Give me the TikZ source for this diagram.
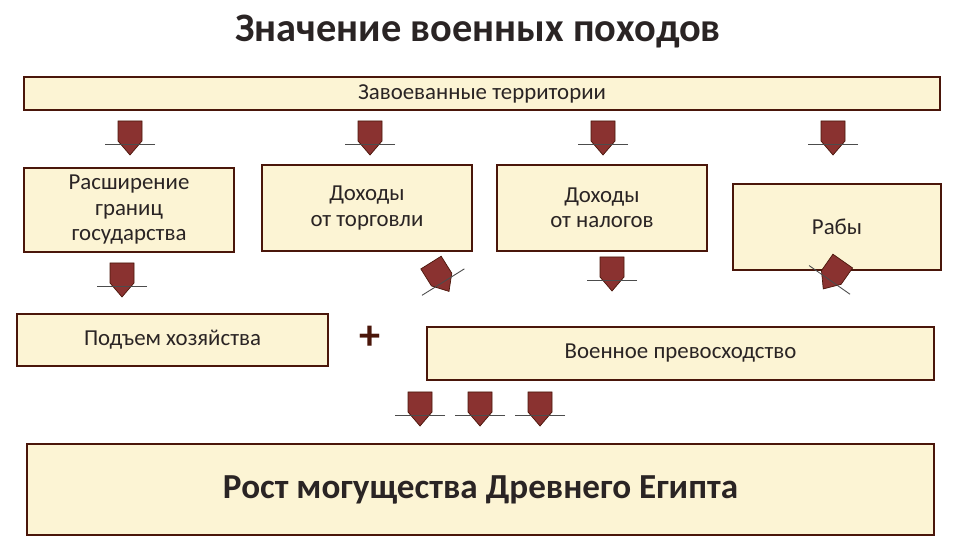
\documentclass[tikz,border=0pt]{standalone}
\usepackage{fontspec}
\setmainfont{Carlito}
\definecolor{boxcream}{RGB}{252,244,212}
\definecolor{boxbrown}{RGB}{74,22,10}
\definecolor{arrowred}{RGB}{138,50,48}
\definecolor{textgray}{RGB}{42,36,36}

\tikzset{
  infobox/.style={draw=boxbrown, line width=1.6pt, fill=boxcream, align=center,
    text=textgray, font=\fontsize{13}{14.5}\selectfont, inner sep=2pt},
  headline/.style={line width=0.5pt, black!70},
  blkarrow/.pic={
    \filldraw[fill=arrowred, draw=boxbrown, line width=0.4pt]
      (-17,-12) -- (3,-12) -- (17,0) -- (3,12) -- (-17,12) -- cycle;
    \draw[headline] (6,-25) -- (6,25);
  }
}

\begin{document}
\begin{tikzpicture}[x=0.02cm, y=-0.02cm]
  \useasboundingbox (0,0) rectangle (960,540);

  % Title
  \node[font=\bfseries\fontsize{23}{28}\selectfont, text=textgray] (title) at (478,32) {Значение военных походов};

  % Top box
  \node[infobox, minimum width=183.2mm, minimum height=6.6mm] (terr) at (482,93.5) {Завоеванные территории};

  % Middle row
  \node[infobox, minimum width=42mm, minimum height=16.8mm] (border) at (129,210) {Расширение\\границ\\государства};
  \node[infobox, minimum width=42mm, minimum height=17.2mm] (trade) at (367,208) {Доходы\\от торговли};
  \node[infobox, minimum width=42mm, minimum height=17.2mm] (tax) at (602,208) {Доходы\\от налогов};
  \node[infobox, minimum width=41.6mm, minimum height=17.2mm] (slaves) at (837,227) {Рабы};

  % Lower row
  \node[infobox, minimum width=62.2mm, minimum height=10.4mm] (economy) at (172.5,340) {Подъем хозяйства};
  \node[font=\bfseries\fontsize{24}{24}\selectfont, text=boxbrown] (plus) at (370,338) {+};
  \node[infobox, minimum width=101.4mm, minimum height=10.6mm] (military) at (680.5,353.5) {Военное превосходство};

  % Result
  \node[infobox, minimum width=181.4mm, minimum height=18.2mm, font=\bfseries\fontsize{20}{24}\selectfont] (power) at (480.5,489.5) {Рост могущества Древнего Египта};

  % Block arrows
  \foreach \x/\y/\ang in {
    130/138/-90, 370/138/-90, 603/138/-90, 833/138/-90,
    122/280/-90, 440/277/-58, 612/274/-90, 833/275/-125,
    420/409/-90, 480/409/-90, 540/409/-90
  } {
    \pic[rotate=\ang] at (\x,\y) {blkarrow};
  }
\end{tikzpicture}
\end{document}
